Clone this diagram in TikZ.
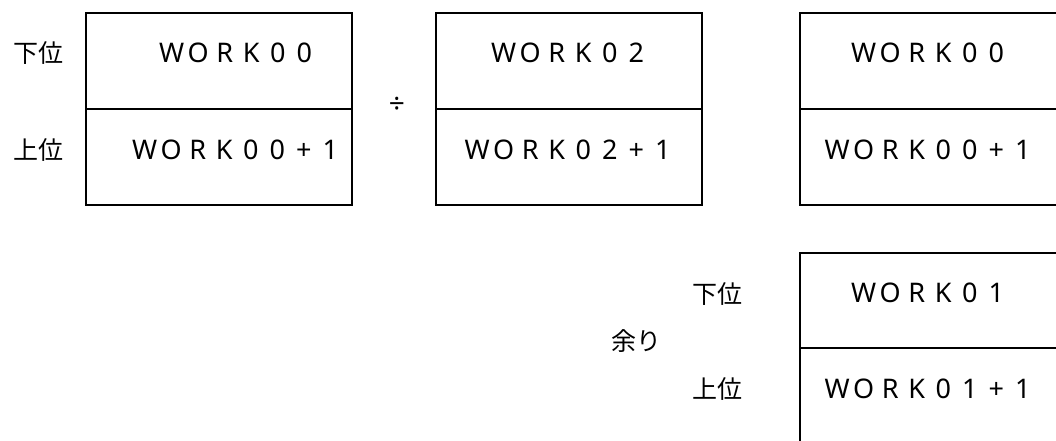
\documentclass[tikz,border=0pt]{standalone}
\usepackage{fontspec}
\setmainfont{Noto Sans CJK JP}
\newfontfamily\regfont{Noto Sans}
\usetikzlibrary{calc}
% one letter per cell, as the register names are spaced out
\newcommand\regname[1]{\regcell#1\relax}
\def\regcell#1{\ifx#1\relax\else\makebox[26.5pt]{#1}\expandafter\regcell\fi}
\tikzset{
  reg/.style={font=\regfont\fontsize{27}{32}\selectfont, inner sep=0pt},
  tag/.style={font=\fontsize{25}{30}\selectfont, inner sep=0pt},
  op/.style={font=\regfont\fontsize{28}{32}\selectfont, inner sep=0pt}
}
\begin{document}
\begin{tikzpicture}[x=1pt,y=-1pt,declare function={w=266;h=96;}]
        \useasboundingbox (0,0) rectangle (1056,440);
        \coordinate (A) at (86,13);
        \coordinate (B) at (436,13);
        \coordinate (C) at (800,13);
        \coordinate (D) at (800,253);
        % dividend, divisor, quotient
        \draw[line width=2pt] (A) rectangle ++(w,2*h);
        \draw[line width=2pt] ($(A)+(0,h)$) -- ++(w,0);
        \draw[line width=2pt] (B) rectangle ++(w,2*h);
        \draw[line width=2pt] ($(B)+(0,h)$) -- ++(w,0);
        \draw[line width=2pt] (C) rectangle ++(w,2*h);
        \draw[line width=2pt] ($(C)+(0,h)$) -- ++(w,0);
        % remainder
        \draw[line width=2pt] (D) rectangle ++(w,2*h);
        \draw[line width=2pt] ($(D)+(0,h-1)$) -- ++(w,0);
        \node[reg] (a1) at (238,53.3) {\regname{WORK00}};
        \node[reg] (a2) at (237.5,150) {\regname{WORK00+1}};
        \node[reg] (b1) at (570,53) {\regname{WORK02}};
        \node[reg] (b2) at (570,150) {\regname{WORK02+1}};
        \node[reg] (c1) at (930,53) {\regname{WORK00}};
        \node[reg] (c2) at (930,150) {\regname{WORK00+1}};
        \node[reg] (d1) at (930,293) {\regname{WORK01}};
        \node[reg] (d2) at (930,389) {\regname{WORK01+1}};
        \node[tag] (lo1) at (38,53) {下位};
        \node[tag] (hi1) at (38,150) {上位};
        \node[op] (div) at (397,105) {÷};
        \node[tag] (lo2) at (717,294) {下位};
        \node[tag] (hi2) at (717,389) {上位};
        \node[tag] (rem) at (636,341) {余り};
\end{tikzpicture}
\end{document}
